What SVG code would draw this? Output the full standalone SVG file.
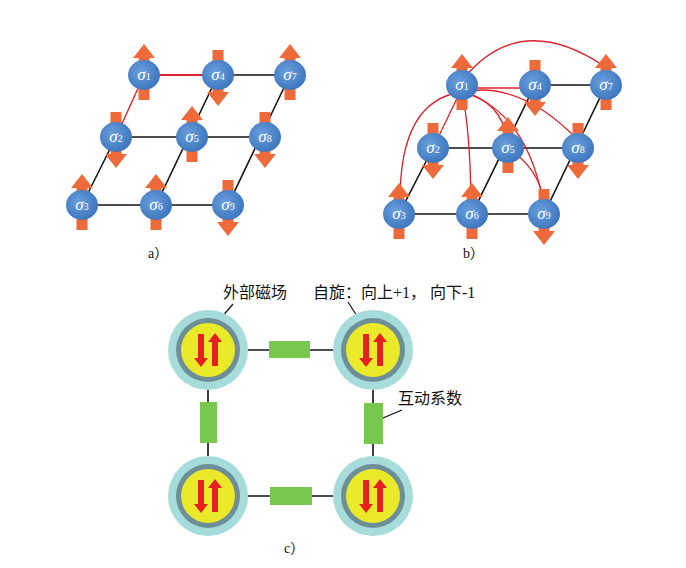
<svg xmlns="http://www.w3.org/2000/svg" width="686" height="568" viewBox="0 0 686 568">
<style>
.n{fill:url(#g)}
.t{font-family:"Liberation Serif",serif;font-style:italic;font-size:17px;fill:#fff;text-anchor:middle}
.s{font-size:10px;font-style:normal}
.k{stroke:#111;stroke-width:1.6;fill:none}
.r{stroke:#e0202a;stroke-width:1.3;fill:none}
.o{fill:#ee6a3a}
.cap{font-family:"Liberation Serif","Noto Sans CJK SC",serif;font-size:14px;fill:#111}
.lbl{font-family:"Liberation Serif","Noto Sans CJK SC",serif;font-size:16px;fill:#111}
.ld{stroke:#111;stroke-width:1.2}
.g{fill:#78c850}
</style>
<defs>
<radialGradient id="g" cx="0.4" cy="0.4" r="0.6"><stop offset="0" stop-color="#6a9fdc"/><stop offset="1" stop-color="#3f78c0"/></radialGradient>
<g id="up"><polygon class="o" points="-11,-17 0,-31 11,-17"/><rect class="o" x="-5.5" y="-18" width="11" height="10"/><rect class="o" x="-5.5" y="10" width="11" height="15"/></g>
<g id="dn"><use href="#up" transform="scale(1,-1)"/></g>
<g id="cc"><circle r="40" fill="#a6dcda"/><circle r="32" fill="#6f8f98"/><circle r="27" fill="#eaea2a"/>
<polygon fill="#e62020" points="-10,-16 -4,-16 -4,8 0,8 -7,17 -14,8 -10,8"/>
<polygon fill="#e62020" points="4,16 10,16 10,-8 14,-8 7,-17 0,-8 4,-8"/></g>
</defs>
<g id="connectors">
<line class="k" x1="218" y1="75" x2="290" y2="75"/>
<line class="k" x1="116" y1="137" x2="265" y2="137"/>
<line class="k" x1="82" y1="205" x2="228" y2="205"/>
<line class="k" x1="116" y1="137" x2="82" y2="205"/>
<line class="k" x1="218" y1="75" x2="156" y2="205"/>
<line class="k" x1="290" y1="75" x2="228" y2="205"/>
<line x1="144" y1="75" x2="218" y2="75" stroke="#e0202a" stroke-width="1.8"/>
<line x1="144" y1="75" x2="116" y2="137" stroke="#e0202a" stroke-width="1.4"/>
<line class="k" x1="535" y1="85" x2="606" y2="85"/>
<line class="k" x1="433" y1="148" x2="578" y2="148"/>
<line class="k" x1="399" y1="214" x2="544" y2="214"/>
<line class="k" x1="433" y1="148" x2="399" y2="214"/>
<line class="k" x1="535" y1="85" x2="472" y2="214"/>
<line class="k" x1="606" y1="85" x2="544" y2="214"/>
<path class="r" d="M462,88 L535,88"/>
<path class="r" d="M462,88 L433,148"/>
<path class="r" d="M462,92 Q400,100 400,200"/>
<path class="r" d="M462,92 Q470,130 471,200"/>
<path class="r" d="M462,92 Q500,100 508,140"/>
<path class="r" d="M462,92 Q520,80 578,140"/>
<path class="r" d="M462,92 Q525,110 543,200"/>
<path class="r" d="M508,148 Q540,170 543,200"/>
<path class="r" d="M464,78 Q520,10 604,66"/>
<line class="k" x1="247" y1="350" x2="333" y2="350"/>
<line class="k" x1="247" y1="496" x2="333" y2="496"/>
<line class="k" x1="208" y1="390" x2="208" y2="456"/>
<line class="k" x1="373" y1="390" x2="373" y2="456"/>
<line class="ld" x1="233" y1="304" x2="221" y2="318"/>
<line class="ld" x1="348" y1="302" x2="366" y2="330"/>
<line class="ld" x1="402" y1="410" x2="383" y2="418"/>
</g>
<g id="a-nodes">
<g id="a1" transform="translate(144,75)"><use href="#up"/><ellipse class="n" rx="16" ry="15"/><text class="t" y="5">σ<tspan class="s">1</tspan></text></g>
<g id="a4" transform="translate(218,75)"><use href="#dn"/><ellipse class="n" rx="16" ry="15"/><text class="t" y="5">σ<tspan class="s">4</tspan></text></g>
<g id="a7" transform="translate(290,75)"><use href="#up"/><ellipse class="n" rx="16" ry="15"/><text class="t" y="5">σ<tspan class="s">7</tspan></text></g>
<g id="a2" transform="translate(116,137)"><use href="#dn"/><ellipse class="n" rx="16" ry="15"/><text class="t" y="5">σ<tspan class="s">2</tspan></text></g>
<g id="a5" transform="translate(192,137)"><use href="#up"/><ellipse class="n" rx="16" ry="15"/><text class="t" y="5">σ<tspan class="s">5</tspan></text></g>
<g id="a8" transform="translate(265,137)"><use href="#dn"/><ellipse class="n" rx="16" ry="15"/><text class="t" y="5">σ<tspan class="s">8</tspan></text></g>
<g id="a3" transform="translate(82,205)"><use href="#up"/><ellipse class="n" rx="16" ry="15"/><text class="t" y="5">σ<tspan class="s">3</tspan></text></g>
<g id="a6" transform="translate(156,205)"><use href="#up"/><ellipse class="n" rx="16" ry="15"/><text class="t" y="5">σ<tspan class="s">6</tspan></text></g>
<g id="a9" transform="translate(228,205)"><use href="#dn"/><ellipse class="n" rx="16" ry="15"/><text class="t" y="5">σ<tspan class="s">9</tspan></text></g>
</g>
<g id="b-nodes">
<g id="b1" transform="translate(462,85)"><use href="#up"/><ellipse class="n" rx="16" ry="15"/><text class="t" y="5">σ<tspan class="s">1</tspan></text></g>
<g id="b4" transform="translate(535,85)"><use href="#dn"/><ellipse class="n" rx="16" ry="15"/><text class="t" y="5">σ<tspan class="s">4</tspan></text></g>
<g id="b7" transform="translate(606,85)"><use href="#up"/><ellipse class="n" rx="16" ry="15"/><text class="t" y="5">σ<tspan class="s">7</tspan></text></g>
<g id="b2" transform="translate(433,148)"><use href="#dn"/><ellipse class="n" rx="16" ry="15"/><text class="t" y="5">σ<tspan class="s">2</tspan></text></g>
<g id="b5" transform="translate(508,148)"><use href="#up"/><ellipse class="n" rx="16" ry="15"/><text class="t" y="5">σ<tspan class="s">5</tspan></text></g>
<g id="b8" transform="translate(578,148)"><use href="#dn"/><ellipse class="n" rx="16" ry="15"/><text class="t" y="5">σ<tspan class="s">8</tspan></text></g>
<g id="b3" transform="translate(399,214)"><use href="#up"/><ellipse class="n" rx="16" ry="15"/><text class="t" y="5">σ<tspan class="s">3</tspan></text></g>
<g id="b6" transform="translate(472,214)"><use href="#up"/><ellipse class="n" rx="16" ry="15"/><text class="t" y="5">σ<tspan class="s">6</tspan></text></g>
<g id="b9" transform="translate(544,214)"><use href="#dn"/><ellipse class="n" rx="16" ry="15"/><text class="t" y="5">σ<tspan class="s">9</tspan></text></g>
</g>
<g id="c-nodes">
<g id="c1" transform="translate(208,350)"><use href="#cc"/></g>
<g id="c2" transform="translate(373,350)"><use href="#cc"/></g>
<g id="c3" transform="translate(208,496)"><use href="#cc"/></g>
<g id="c4" transform="translate(373,496)"><use href="#cc"/></g>
<rect id="j1" class="g" x="269" y="341" width="41" height="17"/>
<rect id="j2" class="g" x="270" y="487" width="42" height="18"/>
<rect id="j3" class="g" x="200" y="402" width="17" height="41"/>
<rect id="j4" class="g" x="364" y="403" width="19" height="41"/>
</g>
<g id="labels">
<text class="cap" x="148" y="258">a）</text>
<text class="cap" x="463" y="258">b）</text>
<text class="cap" x="284" y="553">c）</text>
<text class="lbl" x="223" y="298">外部磁场</text>
<text class="lbl" x="313" y="298">自旋：向上+1， 向下-1</text>
<text class="lbl" x="398" y="404">互动系数</text>
</g>
</svg>
